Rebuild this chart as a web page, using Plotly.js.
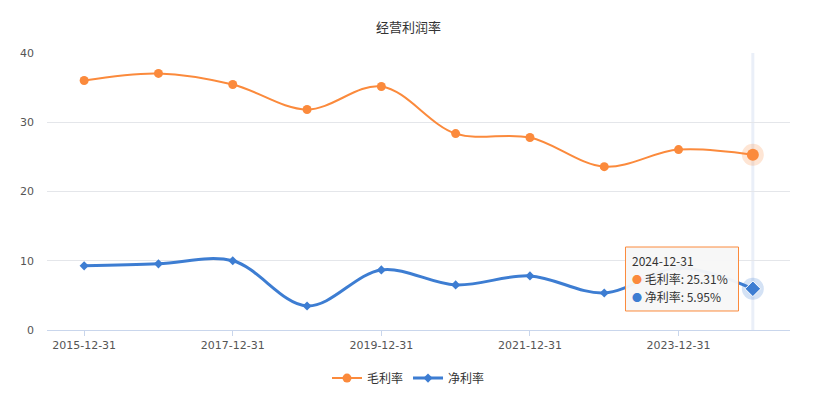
<!DOCTYPE html>
<html>
<head>
<meta charset="utf-8">
<script src="https://cdn.plot.ly/plotly-3.0.1.min.js"></script>
<style>html,body{margin:0;padding:0;background:#fff;}#chart{width:817px;height:398px;}</style>
</head>
<body>
<div id="chart"></div>
<script>
const categories = ["2015-12-31","2016-12-31","2017-12-31","2018-12-31","2019-12-31","2020-12-31","2021-12-31","2022-12-31","2023-12-31","2024-12-31"];
const grossMargin = [36.03, 37.05, 35.45, 31.84, 35.17, 28.36, 27.79, 23.59, 26.05, 25.31];
const netMargin = [9.26, 9.55, 9.99, 3.47, 8.68, 6.51, 7.81, 5.35, 8.95, 5.95];
const tickLabels = ["2015-12-31","2017-12-31","2019-12-31","2021-12-31","2023-12-31"];
const seriesNames = ["毛利率", "净利率"];
const hoverIndex = 9;

const orange = "#fb8a3c";
const blue = "#3d7dd2";
const font = "Noto Sans CJK SC, Noto Sans, sans-serif";
const tickFont = "DejaVu Sans, sans-serif";

const traces = [
  {
    x: categories, y: grossMargin, name: seriesNames[0], type: "scatter", mode: "lines+markers",
    line: {color: orange, width: 2, shape: "spline", smoothing: 1},
    marker: {color: orange, size: 9, symbol: "circle"}
  },
  {
    x: categories, y: netMargin, name: seriesNames[1], type: "scatter", mode: "lines+markers",
    line: {color: blue, width: 3, shape: "spline", smoothing: 1},
    marker: {color: blue, size: 7, symbol: "diamond"}
  },
  {
    x: [categories[hoverIndex]], y: [grossMargin[hoverIndex]], type: "scatter", mode: "markers", showlegend: false,
    marker: {color: "rgba(251,138,60,0.22)", size: 22, symbol: "circle"}
  },
  {
    x: [categories[hoverIndex]], y: [grossMargin[hoverIndex]], type: "scatter", mode: "markers", showlegend: false,
    marker: {color: orange, size: 12, symbol: "circle"}
  },
  {
    x: [categories[hoverIndex]], y: [netMargin[hoverIndex]], type: "scatter", mode: "markers", showlegend: false,
    marker: {color: "rgba(61,125,210,0.22)", size: 22, symbol: "circle"}
  },
  {
    x: [categories[hoverIndex]], y: [netMargin[hoverIndex]], type: "scatter", mode: "markers", showlegend: false,
    marker: {color: blue, size: 12, symbol: "diamond", line: {color: "#ffffff", width: 1}}
  }
];

const tipLines = [
  categories[hoverIndex],
  "<span style='color:" + orange + ";font-size:10px'>●</span> " + seriesNames[0] + ": " + grossMargin[hoverIndex].toFixed(2) + "%",
  "<span style='color:" + blue + ";font-size:10px'>●</span> " + seriesNames[1] + ": " + netMargin[hoverIndex].toFixed(2) + "%"
];
const tipY = [0.250, 0.186, 0.122];

const annotations = tipLines.map((t, i) => ({
  xref: "paper", yref: "paper", x: 0.786, y: tipY[i], xanchor: "left", yanchor: "middle",
  text: t, align: "left", showarrow: false, borderpad: 0,
  font: {family: font, size: 12, color: "#333"}
}));

const layout = {
  width: 817, height: 398,
  margin: {l: 47, r: 27, t: 53, b: 68},
  paper_bgcolor: "#ffffff", plot_bgcolor: "#ffffff",
  font: {family: font, color: "#555", size: 11},
  title: {text: "经营利润率", x: 0.5, xref: "container", y: 0.93, yref: "container", yanchor: "middle",
          font: {family: font, size: 13, color: "#333"}},
  xaxis: {
    type: "category", range: [-0.5, 9.5], tickmode: "array", tickvals: tickLabels, ticktext: tickLabels,
    showgrid: false, showline: true, linecolor: "#c9d6ec", linewidth: 1,
    ticks: "outside", ticklen: 5, tickcolor: "#c9d6ec",
    tickfont: {family: tickFont, size: 11, color: "#555"}, zeroline: false, fixedrange: true
  },
  yaxis: {
    range: [0, 40], dtick: 10, showgrid: true, gridcolor: "#e4e6ea", gridwidth: 1,
    zeroline: false, showline: false, ticks: "", ticklabelstandoff: 12,
    tickfont: {family: tickFont, size: 11, color: "#555"}, fixedrange: true
  },
  shapes: [
    {type: "line", xref: "x", yref: "paper", x0: categories[hoverIndex], x1: categories[hoverIndex], y0: 0, y1: 1,
     line: {color: "#eaeff8", width: 3}, layer: "below"},
    {type: "rect", xref: "paper", yref: "paper", x0: 0.7786, x1: 0.9307, y0: 0.0686, y1: 0.2996,
     fillcolor: "rgba(247,247,247,0.96)", line: {color: orange, width: 1}, layer: "above"}
  ],
  legend: {orientation: "h", x: 0.5, xanchor: "center", xref: "container", y: 0.05, yanchor: "middle", yref: "container",
           font: {family: font, size: 12, color: "#333"}, itemwidth: 30, traceorder: "normal"},
  annotations: annotations,
  showlegend: true
};

Plotly.newPlot("chart", traces, layout, {displayModeBar: false, staticPlot: true});
</script>
</body>
</html>
